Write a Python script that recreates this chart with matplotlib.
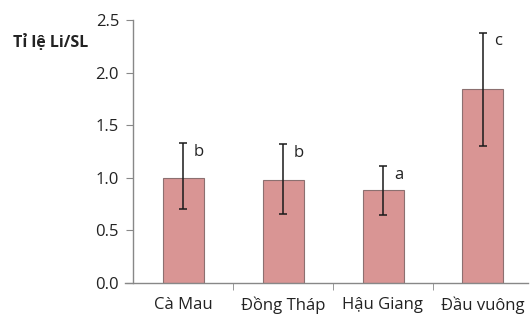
"""Li/SL ratio by location, bar chart with error bars and letters"""

import numpy as np
import matplotlib.pyplot as plt

plt.rcParams["font.family"] = ["Open Sans", "DejaVu Sans"]

locations = ["Cà Mau", "Đồng Tháp", "Hậu Giang", "Đầu vuông"]
ratio = [1.00, 0.98, 0.88, 1.84]
err_low = [0.30, 0.32, 0.23, 0.54]
err_high = [0.33, 0.34, 0.23, 0.54]
letters = ["b", "b", "a", "c"]
yticks = [0.0, 0.5, 1.0, 1.5, 2.0, 2.5]


def plotter():
    """Draw the chart"""
    fig = plt.figure(figsize=(5.30, 3.31), dpi=100)
    ax = fig.add_axes([133 / 530, 48 / 331, 395 / 530, 263 / 331])
    x = np.arange(len(locations))

    ax.bar(x, ratio, width=0.41, color="#d99594", edgecolor="#8c7070",
           linewidth=0.8, zorder=2)
    ax.errorbar(x, ratio, yerr=[err_low, err_high], fmt="none",
                ecolor="#1a1a1a", elinewidth=1.1, capsize=3, capthick=1.1,
                zorder=3)
    for xi, top, lab in zip(x, np.add(ratio, err_high), letters):
        ax.text(xi + 0.11, top - 0.08, lab, fontsize=12, ha="left",
                va="center", color="#222222")

    ax.set_xlim(-0.5, 3.45)
    ax.set_ylim(0, 2.5)
    ax.set_yticks(yticks)
    ax.set_yticklabels([f"{v:.1f}" for v in yticks])
    ax.set_xticks(x)
    ax.set_xticklabels(locations)
    ax.set_xticks(x[:-1] + 0.5, minor=True)
    ax.tick_params(axis="x", which="major", length=0, pad=10,
                   labelsize=12, labelcolor="#222222")
    ax.tick_params(axis="x", which="minor", length=5, direction="out",
                   color="#888888")
    ax.tick_params(axis="y", length=5, direction="out", color="#888888",
                   labelsize=12, labelcolor="#222222", pad=5)
    for side in ["top", "right"]:
        ax.spines[side].set_visible(False)
    for side in ["left", "bottom"]:
        ax.spines[side].set_color("#888888")
        ax.spines[side].set_linewidth(1.0)
    ax.spines["bottom"].set_bounds(-0.58, 3.45)
    ax.spines["bottom"].set_clip_on(False)

    fig.text(13 / 530, 1 - 43 / 331, "Tỉ lệ Li/SL", fontsize=11.5,
             fontweight="bold", ha="left", va="center", color="#222222")

    plt.savefig("out.png")


def main():
    """Main function"""
    plotter()


if __name__ == '__main__':
    main()
